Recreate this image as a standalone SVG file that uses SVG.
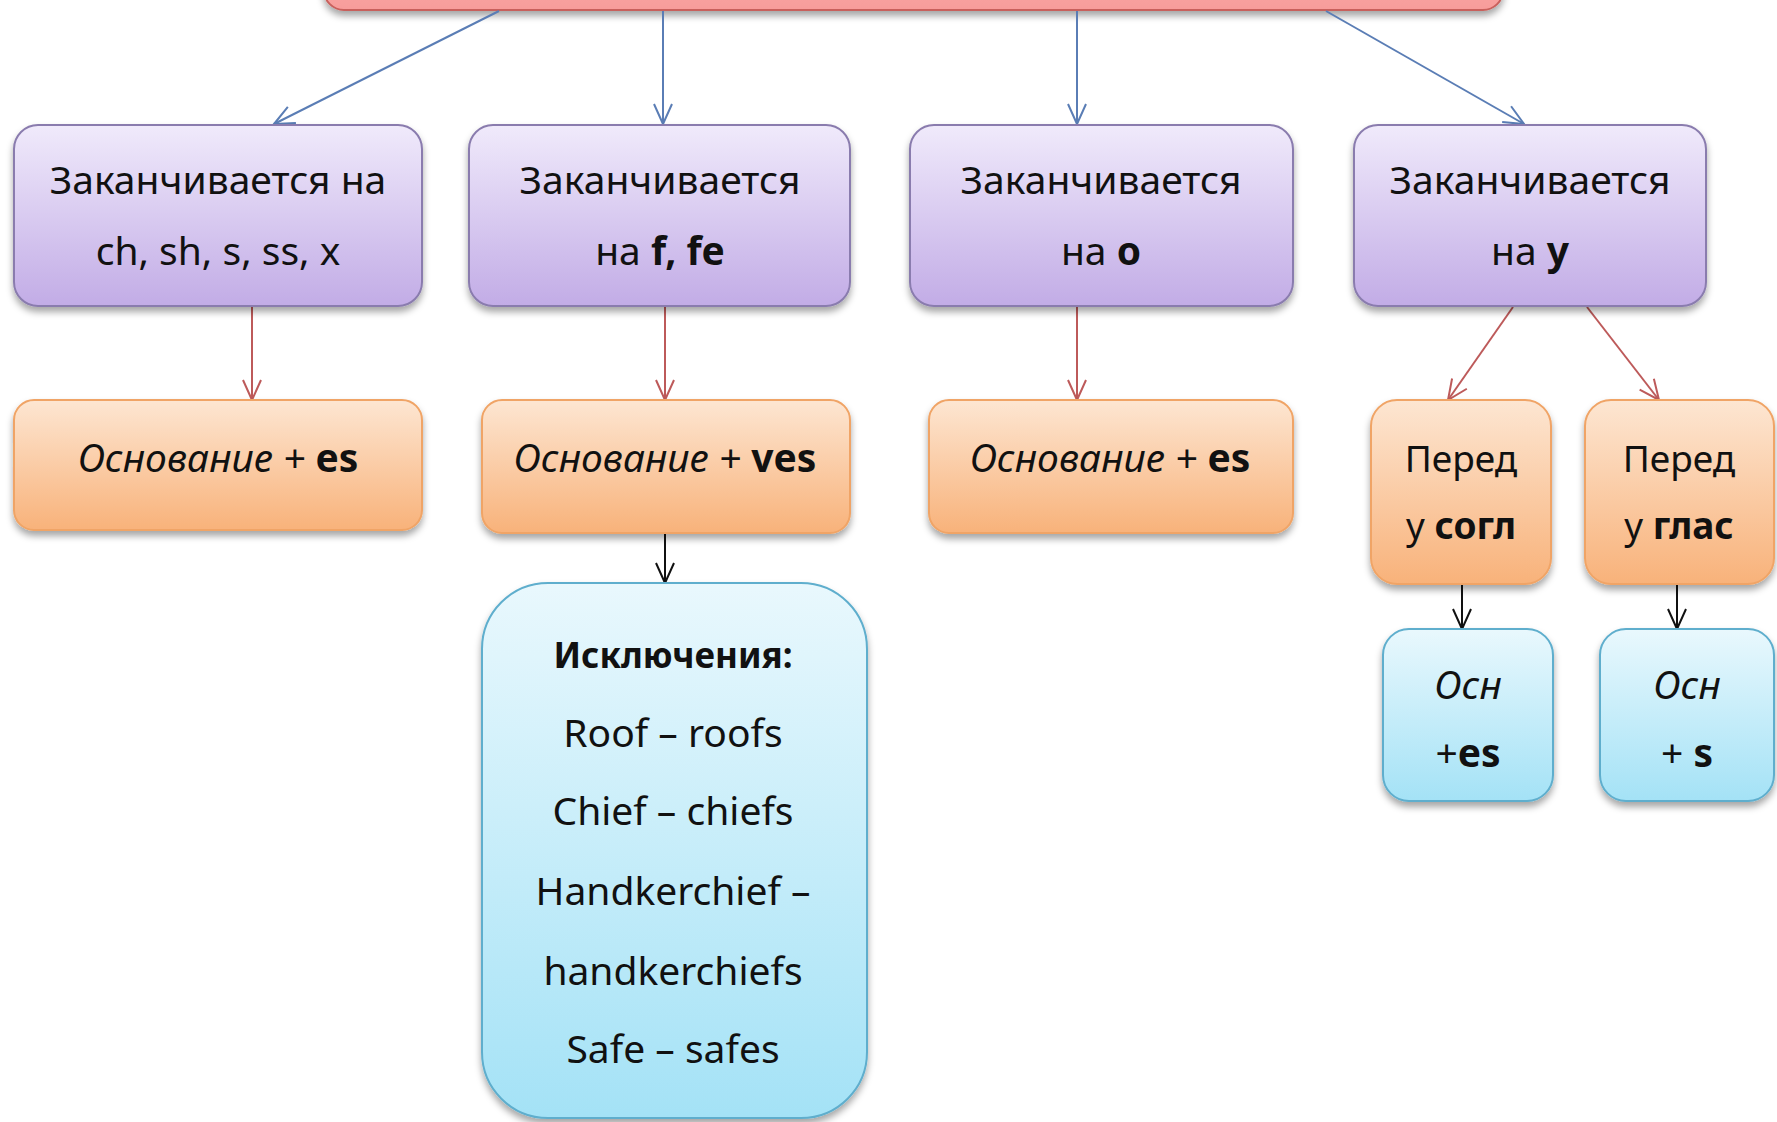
<svg xmlns="http://www.w3.org/2000/svg" width="1777" height="1122" viewBox="0 0 1777 1122">
<defs>
<linearGradient id="gRed" x1="0" y1="0" x2="0" y2="1"><stop offset="0" stop-color="#fbb8b6"/><stop offset="1" stop-color="#f79c9a"/></linearGradient>
<linearGradient id="gPur" x1="0" y1="0" x2="0" y2="1"><stop offset="0" stop-color="#f0eafb"/><stop offset="1" stop-color="#c2ace6"/></linearGradient>
<linearGradient id="gOr" x1="0" y1="0" x2="0" y2="1"><stop offset="0" stop-color="#fde6d2"/><stop offset="1" stop-color="#f8b27a"/></linearGradient>
<linearGradient id="gCy" x1="0" y1="0" x2="0" y2="1"><stop offset="0" stop-color="#e9f8fd"/><stop offset="1" stop-color="#a4e2f6"/></linearGradient>
<filter id="sh" x="-10%" y="-10%" width="120%" height="130%"><feDropShadow dx="0" dy="5" stdDeviation="3.5" flood-color="#000" flood-opacity="0.35"/></filter>
<marker id="aB" markerUnits="userSpaceOnUse" markerWidth="30" markerHeight="30" refX="22" refY="12" orient="auto"><path d="M2,3 L22,12 L2,21" fill="none" stroke="#5a7db5" stroke-width="2"/></marker>
<marker id="aR" markerUnits="userSpaceOnUse" markerWidth="30" markerHeight="30" refX="22" refY="12" orient="auto"><path d="M2,3 L22,12 L2,21" fill="none" stroke="#bd5a5a" stroke-width="2"/></marker>
<marker id="aK" markerUnits="userSpaceOnUse" markerWidth="30" markerHeight="30" refX="22" refY="12" orient="auto"><path d="M2,3 L22,12 L2,21" fill="none" stroke="#111" stroke-width="2"/></marker>
</defs>
<style>
.t{font-family:"Noto Sans","Open Sans","DejaVu Sans",sans-serif;font-size:39px;fill:#111;text-anchor:middle}
.i{font-style:italic}
.b{font-weight:bold}
.s37{font-size:37px}
.s35{font-size:35px}
.red{fill:url(#gRed);stroke:#c8605c;stroke-width:2;filter:url(#sh)}
.pur{fill:url(#gPur);stroke:#8a7cae;stroke-width:2;filter:url(#sh)}
.or{fill:url(#gOr);stroke:#f0a466;stroke-width:2;filter:url(#sh)}
.cy{fill:url(#gCy);stroke:#5eaecd;stroke-width:2;filter:url(#sh)}
.cB{stroke:#5a7db5;stroke-width:2;fill:none;marker-end:url(#aB)}
.cR{stroke:#bd5a5a;stroke-width:2;fill:none;marker-end:url(#aR)}
.cK{stroke:#111;stroke-width:2;fill:none;marker-end:url(#aK)}
</style>
<rect width="1777" height="1122" fill="#fff"/>
<g id="root"><rect class="red" x="324" y="-60" width="1179" height="70" rx="20"/></g>
<g id="connectors">
<line class="cB" x1="499" y1="11" x2="274" y2="124"/>
<line class="cB" x1="663" y1="11" x2="663" y2="124"/>
<line class="cB" x1="1077" y1="11" x2="1077" y2="124"/>
<line class="cB" x1="1326" y1="11" x2="1524" y2="124"/>
<line class="cR" x1="252" y1="306" x2="252" y2="400"/>
<line class="cR" x1="665" y1="306" x2="665" y2="400"/>
<line class="cR" x1="1077" y1="306" x2="1077" y2="400"/>
<line class="cR" x1="1513" y1="307" x2="1448" y2="400"/>
<line class="cR" x1="1587" y1="307" x2="1659" y2="400"/>
<line class="cK" x1="665" y1="533" x2="665" y2="583"/>
<line class="cK" x1="1462" y1="584" x2="1462" y2="629"/>
<line class="cK" x1="1677" y1="584" x2="1677" y2="629"/>
</g>
<g id="p1"><rect class="pur" x="14" y="125" width="408" height="181" rx="24"/>
<text class="t" x="218" y="194">Заканчивается на</text>
<text class="t" x="218" y="265">ch, sh, s, ss, x</text></g>
<g id="p2"><rect class="pur" x="469" y="125" width="381" height="181" rx="24"/>
<text class="t" x="660" y="194">Заканчивается</text>
<text class="t" x="660" y="265">на <tspan class="b">f, fe</tspan></text></g>
<g id="p3"><rect class="pur" x="910" y="125" width="383" height="181" rx="24"/>
<text class="t" x="1101" y="194">Заканчивается</text>
<text class="t" x="1101" y="265">на <tspan class="b">o</tspan></text></g>
<g id="p4"><rect class="pur" x="1354" y="125" width="352" height="181" rx="24"/>
<text class="t" x="1530" y="194">Заканчивается</text>
<text class="t" x="1530" y="265">на <tspan class="b">y</tspan></text></g>
<g id="o1"><rect class="or" x="14" y="400" width="408" height="130" rx="20"/>
<text class="t" x="218" y="472"><tspan class="i">Основание + </tspan><tspan class="b">es</tspan></text></g>
<g id="o2"><rect class="or" x="482" y="400" width="368" height="133" rx="20"/>
<text class="t" x="665" y="472"><tspan class="i">Основание + </tspan><tspan class="b">ves</tspan></text></g>
<g id="o3"><rect class="or" x="929" y="400" width="364" height="133" rx="20"/>
<text class="t" x="1110" y="472"><tspan class="i">Основание + </tspan><tspan class="b">es</tspan></text></g>
<g id="o4"><rect class="or" x="1371" y="400" width="180" height="184" rx="26"/>
<text class="t s37" x="1461" y="472">Перед</text>
<text class="t s37" x="1461" y="539">у <tspan class="b">согл</tspan></text></g>
<g id="o5"><rect class="or" x="1585" y="400" width="189" height="184" rx="26"/>
<text class="t s37" x="1679" y="472">Перед</text>
<text class="t s37" x="1679" y="539">у <tspan class="b">глас</tspan></text></g>
<g id="ex"><rect class="cy" x="482" y="583" width="385" height="535" rx="66"/>
<text class="t b s35" x="673" y="668">Исключения:</text>
<text class="t" x="673" y="747">Roof – roofs</text>
<text class="t" x="673" y="825">Chief – chiefs</text>
<text class="t" x="673" y="905">Handkerchief –</text>
<text class="t" x="673" y="985">handkerchiefs</text>
<text class="t" x="673" y="1063">Safe – safes</text></g>
<g id="c1"><rect class="cy" x="1383" y="629" width="170" height="172" rx="26"/>
<text class="t i" x="1468" y="699">Осн</text>
<text class="t" x="1468" y="767">+<tspan class="b">es</tspan></text></g>
<g id="c2"><rect class="cy" x="1600" y="629" width="174" height="172" rx="26"/>
<text class="t i" x="1687" y="699">Осн</text>
<text class="t" x="1687" y="767">+ <tspan class="b">s</tspan></text></g>
</svg>
